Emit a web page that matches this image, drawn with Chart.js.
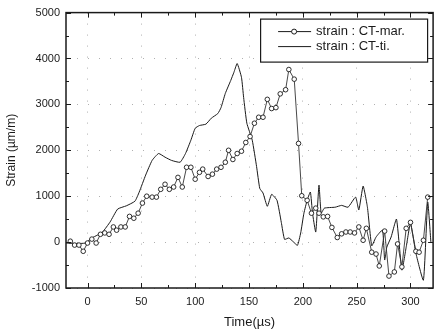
<!DOCTYPE html>
<html>
<head>
<meta charset="utf-8">
<script src="https://cdn.jsdelivr.net/npm/chart.js@4/dist/chart.umd.min.js"></script>
<style>
  html, body { margin: 0; padding: 0; background: #fff; }
  #wrap { width: 438px; height: 334px; }
</style>
</head>
<body>
<div id="wrap"><canvas id="strainChart" width="438" height="334"></canvas></div>
<script>
// data
const marTime = [-16, -12, -8, -4, 0, 4, 8, 12, 16, 20, 24, 27, 31, 35, 39, 43, 47, 51, 55, 60, 64, 68, 72, 76, 80, 84, 88, 92, 96, 100,
  104, 107, 112, 116, 120, 124, 128, 131, 135, 139, 143, 147, 151, 155, 159, 163, 167, 171, 175, 179, 184, 187, 192, 196, 199,
  204, 208, 212, 215, 219, 223, 227, 232, 236, 240, 244, 248, 252, 256, 259, 264, 268, 271, 276, 280, 285, 288, 292, 296, 300,
  305, 308, 312, 316];
const marStrain = [20, -65, -65, -200, -20, 65, -20, 170, 200, 170, 330, 260, 330, 330, 560, 520, 630, 850, 1000, 980, 980, 1150, 1260, 1150, 1200, 1410, 1200, 1630, 1630, 1370,
  1520, 1590, 1430, 1480, 1590, 1630, 1740, 2000, 1800, 1930, 1980, 2170, 2300, 2590, 2720, 2720, 3110, 2910, 2930, 3230, 3320, 3760, 3550, 2150, 1010,
  910, 630, 740, 630, 550, 560, 320, 100, 180, 220, 220, 200, 330, 40, 300, -220, -260, -520, 240, -740, -650, -40, -540, 300, 430,
  -200, -220, 40, 980];

const tiTime = [-20, -10, -2, 4, 9, 14, 21, 28, 36, 44, 48, 54, 60, 66, 72, 78, 86, 91, 96, 100, 104, 110, 115, 121, 124, 128, 133, 136, 139, 143,
  145, 148, 153, 157, 160, 163, 167, 171, 176, 180, 183, 187, 191, 195, 198, 201, 204, 207, 209, 212, 215, 217, 220, 230, 236,
  242, 249, 252, 256, 260, 264, 268, 274, 276, 278, 282, 287, 292, 296, 300, 305, 312, 316, 319];
const tiStrain = [-20, -30, -20, 90, 150, 220, 440, 720, 790, 890, 1090, 1460, 1780, 1930, 1850, 1780, 1740, 1930, 2220, 2480, 2540, 2570, 2700, 2800, 2930, 3240, 3520, 3700, 3890, 3590,
  3150, 2590, 2220, 1650, 1170, 1070, 780, 1040, 910, 430, 60, 90, 10, -70, 200, 630, 910, 1090, 630, 220, 1240, 630, 740, 760, 800,
  760, 980, 700, 1220, 760, -80, 110, 260, -390, -110, 110, 500, -610, -110, 410, -240, -830, 870, -20];

const seriesNames = ['strain : CT-mar.', 'strain : CT-ti.'];
const xTicks = [0, 50, 100, 150, 200, 250, 300];
const yTicks = [-1000, 0, 1000, 2000, 3000, 4000, 5000];

const ink = '#1a1a1a';
const font = 'Liberation Sans, Arial, sans-serif';

// frame on all four sides with inward major/minor ticks
const framePlugin = {
  id: 'frame',
  afterDraw(chart) {
    const { ctx, chartArea: a, scales } = chart;
    ctx.save();
    ctx.strokeStyle = ink;
    ctx.lineWidth = 1.5;
    ctx.strokeRect(a.left, a.top, a.right - a.left, a.bottom - a.top);
    ctx.lineWidth = 1;
    ctx.beginPath();
    for (let v = -25; v <= 325; v += 25) {
      const px = Math.round(scales.x.getPixelForValue(v)) + 0.5;
      if (px < a.left || px > a.right) continue;
      const len = v % 50 === 0 ? 5 : 3;
      ctx.moveTo(px, a.bottom); ctx.lineTo(px, a.bottom - len);
      ctx.moveTo(px, a.top); ctx.lineTo(px, a.top + len);
    }
    for (let v = -1000; v <= 5000; v += 500) {
      const py = Math.round(scales.y.getPixelForValue(v)) + 0.5;
      const len = v % 1000 === 0 ? 5 : 3;
      ctx.moveTo(a.left, py); ctx.lineTo(a.left + len, py);
      ctx.moveTo(a.right, py); ctx.lineTo(a.right - len, py);
    }
    ctx.stroke();
    ctx.restore();
  }
};

// boxed legend in the top right corner
const legendBoxPlugin = {
  id: 'legendBox',
  afterDraw(chart) {
    const { ctx, chartArea: a } = chart;
    const bx = a.right - 173, by = a.top + 6, bw = 167, bh = 43;
    ctx.save();
    ctx.fillStyle = '#fff';
    ctx.fillRect(bx, by, bw, bh);
    ctx.strokeStyle = ink;
    ctx.lineWidth = 1.2;
    ctx.strokeRect(bx + 0.5, by + 0.5, bw, bh);
    ctx.font = '13px ' + font;
    ctx.textBaseline = 'middle';
    chart.data.datasets.forEach((ds, i) => {
      const y = by + 13 + i * 15;
      ctx.strokeStyle = ink;
      ctx.lineWidth = 1;
      ctx.beginPath();
      ctx.moveTo(bx + 18, y); ctx.lineTo(bx + 51, y);
      ctx.stroke();
      if (ds.pointRadius > 0) {
        ctx.beginPath();
        ctx.arc(bx + 34, y, 2.5, 0, Math.PI * 2);
        ctx.fillStyle = '#fff';
        ctx.fill();
        ctx.stroke();
      }
      ctx.fillStyle = ink;
      ctx.fillText(ds.label, bx + 56, y);
    });
    ctx.restore();
  }
};

new Chart(document.getElementById('strainChart'), {
  type: 'line',
  data: {
    datasets: [
      {
        label: seriesNames[0],
        data: marTime.map((t, i) => ({ x: t, y: marStrain[i] })),
        borderColor: '#333',
        borderWidth: 0.9,
        pointRadius: 2.3,
        pointBorderWidth: 0.9,
        pointBackgroundColor: '#fff',
        pointBorderColor: ink,
        tension: 0
      },
      {
        label: seriesNames[1],
        data: tiTime.map((t, i) => ({ x: t, y: tiStrain[i] })),
        borderColor: ink,
        borderWidth: 1,
        pointRadius: 0,
        tension: 0.15
      }
    ]
  },
  options: {
    responsive: false,
    animation: false,
    layout: { padding: { left: 0, top: 11, right: 1, bottom: 0 } },
    plugins: {
      legend: { display: false },
      tooltip: { enabled: false }
    },
    scales: {
      x: {
        type: 'linear',
        min: -20,
        max: 321,
        afterBuildTicks: s => { s.ticks = xTicks.map(v => ({ value: v })); },
        afterFit: s => { s.height = 46; },
        grid: { color: '#b0b0b0', lineWidth: 1, drawTicks: false },
        border: { display: false, dash: [1, 10] },
        ticks: { color: ink, font: { family: font, size: 11 }, padding: 7, callback: v => String(v) },
        title: { display: true, text: 'Time(µs)', color: ink, font: { family: font, size: 13 }, padding: { top: 4 } }
      },
      y: {
        min: -1000,
        max: 5000,
        afterBuildTicks: s => { s.ticks = yTicks.map(v => ({ value: v })); },
        afterFit: s => { s.width = 66; },
        grid: { color: '#b0b0b0', lineWidth: 1, drawTicks: false },
        border: { display: false, dash: [1, 10] },
        ticks: { color: ink, font: { family: font, size: 11 }, padding: 6, callback: v => String(v) },
        title: { display: true, text: 'Strain (µm/m)', color: ink, font: { family: font, size: 12 }, padding: { bottom: 2 } }
      }
    }
  },
  plugins: [framePlugin, legendBoxPlugin]
});
</script>
</body>
</html>
